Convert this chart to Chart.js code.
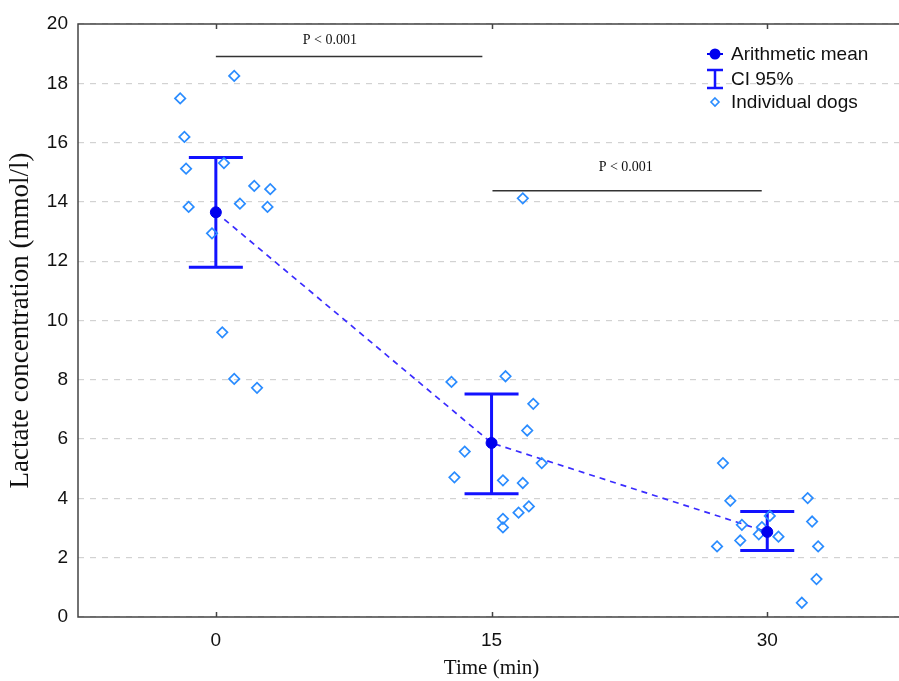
<!DOCTYPE html>
<html>
<head>
<meta charset="utf-8">
<title>Lactate concentration</title>
<script src="https://cdn.jsdelivr.net/npm/chart.js@4.4.1/dist/chart.umd.min.js"></script>
<style>
  html, body { margin: 0; padding: 0; background: #fff; overflow: hidden; width: 899px; height: 681px; }
  #wrap { position: relative; width: 912px; height: 681px; }
</style>
</head>
<body>
<div id="wrap"><canvas id="myChart" width="912" height="681"></canvas></div>
<script>
// time points and their tick labels
var timePoints = [0, 15, 30];
var xTickLabels = ['0', '15', '30'];

// arithmetic mean and 95% CI per time point
var meanValues = [13.65, 5.87, 2.87];
var ciLower = [11.8, 4.16, 2.24];
var ciUpper = [15.5, 7.52, 3.56];

// individual dogs (x is jittered around the time point)
var dogs0x = [1.0, -1.94, -1.71, -1.62, 0.44, 2.09, 2.96, -1.48, 1.31, 2.81, -0.21, 0.35, 1.0, 2.24];
var dogs0y = [18.25, 17.49, 16.19, 15.12, 15.31, 14.54, 14.43, 13.83, 13.94, 13.83, 12.94, 9.6, 8.03, 7.73];
var dogs15x = [16.7, 12.82, 15.76, 17.27, 16.94, 13.54, 17.73, 12.98, 15.62, 16.7, 17.03, 16.47, 15.62, 15.62];
var dogs15y = [14.12, 7.93, 8.12, 7.19, 6.29, 5.58, 5.19, 4.71, 4.61, 4.52, 3.73, 3.52, 3.31, 3.02];
var dogs30x = [27.59, 27.99, 32.2, 30.14, 32.44, 28.62, 29.71, 29.54, 30.61, 28.53, 27.27, 32.77, 32.68, 31.88];
var dogs30y = [5.19, 3.92, 4.01, 3.41, 3.22, 3.11, 3.03, 2.79, 2.71, 2.58, 2.38, 2.38, 1.28, 0.48];

// significance brackets
var pFrom = [0, 15.05];
var pTo = [14.5, 29.7];
var pLineY = [18.9, 14.38];
var pTextX = [6.2, 22.3];
var pTextY = [19.44, 15.15];
var pLabels = ['P < 0.001', 'P < 0.001'];

var legendLabels = ['Arithmetic mean', 'CI 95%', 'Individual dogs'];

function toPoints(xs, ys) {
    var out = [];
    for (var i = 0; i < xs.length; i++) out.push({x: xs[i], y: ys[i]});
    return out;
}

var dogPoints = toPoints(dogs0x, dogs0y).concat(toPoints(dogs15x, dogs15y), toPoints(dogs30x, dogs30y));
var meanPoints = toPoints(timePoints, meanValues);

var barColor = '#1212ff';

var extras = {
    id: 'extras',
    beforeDatasetsDraw: function(chart) {
        var ctx = chart.ctx, xs = chart.scales.x, ys = chart.scales.y;
        ctx.save();
        ctx.strokeStyle = barColor;
        ctx.lineWidth = 3;
        for (var i = 0; i < timePoints.length; i++) {
            var px = xs.getPixelForValue(timePoints[i]);
            var top = ys.getPixelForValue(ciUpper[i]);
            var bot = ys.getPixelForValue(ciLower[i]);
            ctx.beginPath();
            ctx.moveTo(px, top); ctx.lineTo(px, bot);
            ctx.moveTo(px - 27, top); ctx.lineTo(px + 27, top);
            ctx.moveTo(px - 27, bot); ctx.lineTo(px + 27, bot);
            ctx.stroke();
        }
        ctx.restore();
    },
    afterDraw: function(chart) {
        var ctx = chart.ctx, xs = chart.scales.x, ys = chart.scales.y, a = chart.chartArea;
        ctx.save();
        // frame
        ctx.strokeStyle = '#444';
        ctx.lineWidth = 1.5;
        ctx.strokeRect(a.left, a.top, a.right - a.left, a.bottom - a.top);
        // x ticks inside, bottom and top
        ctx.beginPath();
        for (var i = 0; i < timePoints.length; i++) {
            var tx = Math.round(xs.getPixelForValue(timePoints[i])) + 0.5;
            ctx.moveTo(tx, a.bottom); ctx.lineTo(tx, a.bottom - 5);
            ctx.moveTo(tx, a.top); ctx.lineTo(tx, a.top + 5);
        }
        ctx.stroke();

        // significance brackets
        ctx.strokeStyle = '#333';
        ctx.lineWidth = 1.5;
        ctx.fillStyle = '#111';
        ctx.font = '14px "Liberation Serif", serif';
        ctx.textAlign = 'center';
        ctx.textBaseline = 'middle';
        for (var j = 0; j < pLabels.length; j++) {
            var y = ys.getPixelForValue(pLineY[j]);
            ctx.beginPath();
            ctx.moveTo(xs.getPixelForValue(pFrom[j]), y);
            ctx.lineTo(xs.getPixelForValue(pTo[j]), y);
            ctx.stroke();
            ctx.fillText(pLabels[j], xs.getPixelForValue(pTextX[j]), ys.getPixelForValue(pTextY[j]));
        }

        // legend
        var lx = 715, ly = [54, 79, 102];
        ctx.textAlign = 'left';
        ctx.font = '19px "Liberation Sans", Arial, sans-serif';
        ctx.fillStyle = '#111';
        for (var k = 0; k < legendLabels.length; k++) {
            ctx.fillText(legendLabels[k], 731, ly[k] + 1);
        }
        ctx.strokeStyle = '#0000ee';
        ctx.fillStyle = '#0000ee';
        ctx.lineWidth = 2;
        ctx.beginPath(); ctx.moveTo(lx - 8, ly[0]); ctx.lineTo(lx + 8, ly[0]); ctx.stroke();
        ctx.beginPath(); ctx.arc(lx, ly[0], 5.5, 0, Math.PI * 2); ctx.fill();
        ctx.strokeStyle = barColor;
        ctx.lineWidth = 2.5;
        ctx.beginPath();
        ctx.moveTo(lx, ly[1] - 9); ctx.lineTo(lx, ly[1] + 9);
        ctx.moveTo(lx - 8, ly[1] - 9); ctx.lineTo(lx + 8, ly[1] - 9);
        ctx.moveTo(lx - 8, ly[1] + 9); ctx.lineTo(lx + 8, ly[1] + 9);
        ctx.stroke();
        ctx.strokeStyle = '#2a8cff';
        ctx.lineWidth = 1.6;
        ctx.beginPath();
        ctx.moveTo(lx, ly[2] - 4); ctx.lineTo(lx + 4, ly[2]);
        ctx.lineTo(lx, ly[2] + 4); ctx.lineTo(lx - 4, ly[2]);
        ctx.closePath(); ctx.stroke();
        ctx.restore();
    }
};

var ctx = document.getElementById('myChart').getContext('2d');
var myChart = new Chart(ctx, {
    type: 'scatter',
    data: {
        datasets: [
            {
                label: 'Arithmetic mean',
                data: meanPoints,
                pointRadius: 5.5,
                pointBackgroundColor: '#0000ee',
                pointBorderColor: '#0000ee',
                borderWidth: 1
            },
            {
                label: 'Individual dogs',
                data: dogPoints,
                pointStyle: 'rectRot',
                pointRadius: 5.2,
                pointBorderColor: '#2a8cff',
                pointBackgroundColor: 'rgba(255,255,255,0)',
                pointBorderWidth: 1.7
            },
            {
                label: 'Mean line',
                type: 'line',
                data: meanPoints,
                borderColor: '#3a2cff',
                borderWidth: 1.7,
                borderDash: [6, 5],
                pointRadius: 0,
                fill: false,
                tension: 0
            }
        ]
    },
    options: {
        responsive: false,
        animation: false,
        layout: { padding: { left: 0, top: 24, right: 4, bottom: 0 } },
        plugins: {
            legend: { display: false },
            tooltip: { enabled: false }
        },
        scales: {
            x: {
                type: 'linear',
                min: -7.5,
                max: 37.5,
                afterBuildTicks: function(scale) {
                    scale.ticks = timePoints.map(function(v) { return {value: v}; });
                },
                afterFit: function(scale) { scale.height = 64; },
                ticks: {
                    padding: 12,
                    color: '#111',
                    font: { family: '"Liberation Sans", Arial, sans-serif', size: 19 },
                    callback: function(v, i) { return xTickLabels[i]; }
                },
                grid: { display: false, drawTicks: false },
                border: { display: false },
                title: {
                    display: true,
                    text: 'Time (min)',
                    color: '#111',
                    font: { family: '"Liberation Serif", serif', size: 21 },
                    padding: { top: 0, bottom: 0 }
                }
            },
            y: {
                min: 0,
                max: 20,
                afterFit: function(scale) { scale.width = 78; },
                ticks: {
                    stepSize: 2,
                    padding: 10,
                    color: '#111',
                    font: { family: '"Liberation Sans", Arial, sans-serif', size: 19 }
                },
                grid: { color: '#d2d2d2', lineWidth: 1.2, drawTicks: false },
                border: { display: false, dash: [6, 6] },
                title: {
                    display: true,
                    text: 'Lactate concentration (mmol/l)',
                    color: '#111',
                    font: { family: '"Liberation Serif", serif', size: 27 },
                    padding: { top: 5, bottom: 0 }
                }
            }
        }
    },
    plugins: [extras]
});
</script>
</body>
</html>
